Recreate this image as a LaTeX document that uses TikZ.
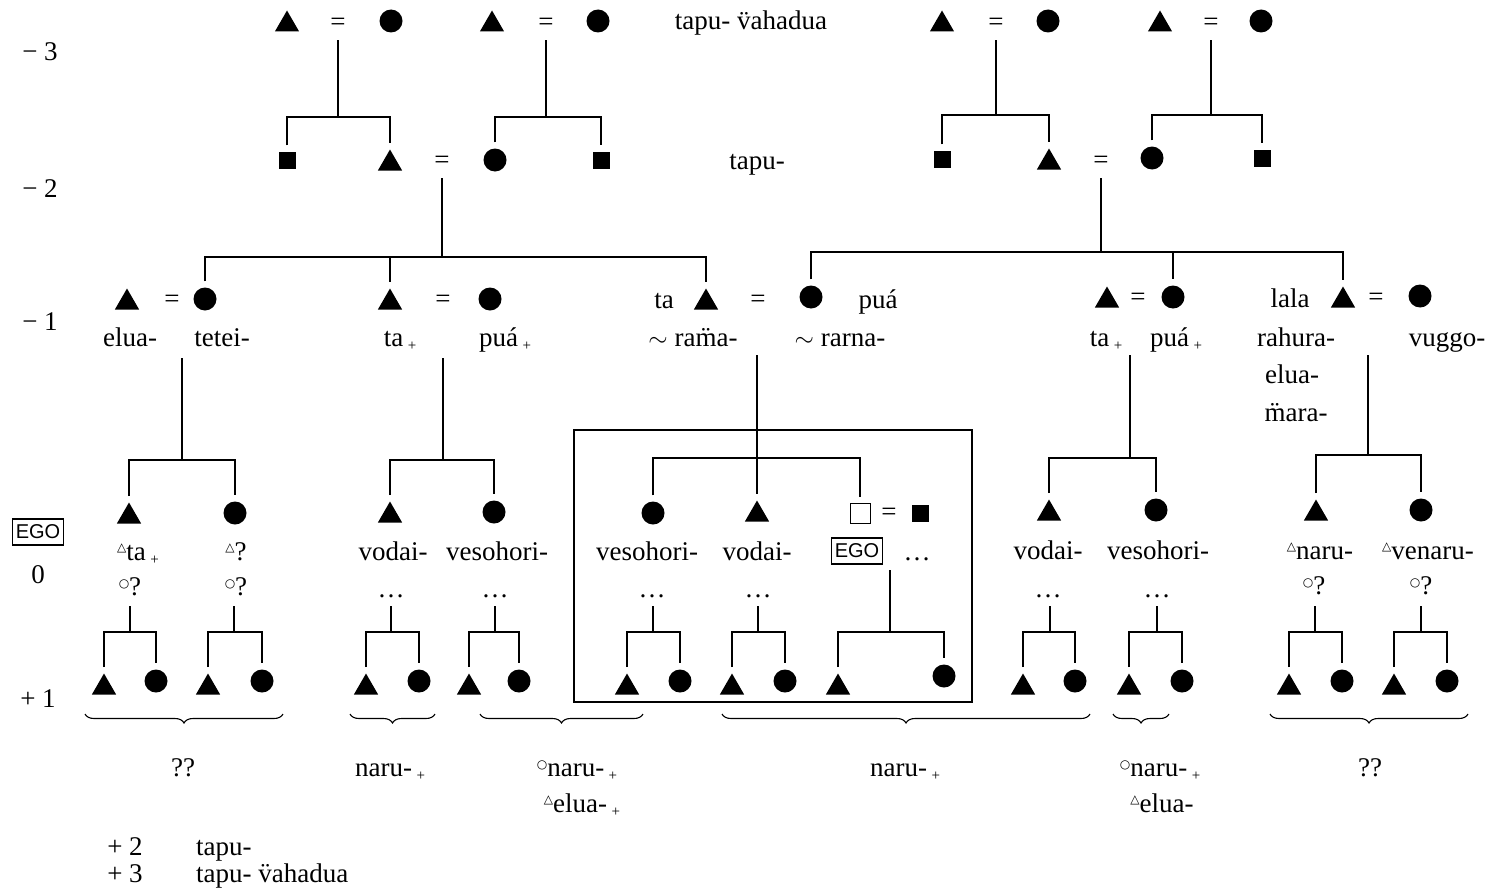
\documentclass[tikz,border=0pt]{standalone}
\usepackage{fontspec}
\setmainfont{Liberation Serif}
\newfontfamily\symfont{DejaVu Sans}
\newfontfamily\egofam{Liberation Sans}
\usetikzlibrary{shapes.geometric,decorations.pathreplacing}
\newcommand\lblfont{\fontsize{27}{31}\selectfont}
\newcommand\plsub{\,\raisebox{-4pt}{\fontsize{15}{15}\selectfont +}}
\newcommand\mtri{\raisebox{9pt}{\symfont\fontsize{12}{12}\selectfont △}}
\newcommand\mcir{\raisebox{8pt}{\symfont\fontsize{12}{12}\selectfont ○}}
\tikzset{
  tri/.style={regular polygon, regular polygon sides=3, fill=black, inner sep=0pt, minimum size=28pt, yshift=-3.5pt},
  cir/.style={circle, fill=black, inner sep=0pt, minimum size=23pt},
  sqr/.style={rectangle, fill=black, inner sep=0pt, minimum size=17pt},
  osq/.style={rectangle, draw, line width=1pt, fill=white, inner sep=0pt, minimum size=20pt},
  eqs/.style={inner sep=0pt, font=\lblfont},
  lbl/.style={inner sep=0pt, font=\lblfont, anchor=base},
  ego/.style={draw, line width=1.3pt, inner xsep=3pt, inner ysep=6pt, font=\egofam\fontsize{20}{22}\selectfont},
  ln/.style={line width=2.2pt},
  kid/.style={line width=2.2pt, shorten <=6pt, shorten >=6pt},
  brc/.style={line width=1.1pt, decorate, decoration={brace, mirror, amplitude=9pt}},
}
\begin{document}
\begin{tikzpicture}[x=1pt,y=-1pt]
\useasboundingbox (0,0) rectangle (1495,891);
% generation labels
\node[lbl] (gm3) at (40,60) {− 3};
\node[lbl] (gm2) at (40,197) {− 2};
\node[lbl] (gm1) at (40,330) {− 1};
\node[ego] (ego0) at (38,532) {EGO};
\node[lbl] (g0) at (38,583) {0};
\node[lbl] (gp1) at (38,707) {+ 1};
% row -3
\node[tri] (a1) at (287,21) {}; \node[eqs] (ae) at (338,24) {=}; \node[cir] (a2) at (391,21) {};
\node[tri] (b1) at (492,21) {}; \node[eqs] (be) at (546,24) {=}; \node[cir] (b2) at (598,21) {};
\node[lbl] (t3) at (751,30) {tapu- \"vahadua};
\node[tri] (c1) at (942,21) {}; \node[eqs] (ce) at (996,24) {=}; \node[cir] (c2) at (1048,21) {};
\node[tri] (d1) at (1160,21) {}; \node[eqs] (de) at (1211,24) {=}; \node[cir] (d2) at (1261,21) {};
% row -2
\node[sqr] (p1) at (287,160) {}; \node[tri] (p2) at (390,160) {}; \node[eqs] (pe) at (442,162) {=};
\node[cir] (p3) at (495,160) {}; \node[sqr] (p4) at (601,160) {};
\node[lbl] (t2) at (757,169) {tapu-};
\node[sqr] (q1) at (942,159) {}; \node[tri] (q2) at (1049,159) {}; \node[eqs] (qe) at (1101,162) {=};
\node[cir] (q3) at (1152,158) {}; \node[sqr] (q4) at (1262,158) {};
% -3 -> -2
\coordinate (ja) at (338,117); \draw[ln, shorten <=10pt] (ae.south) -- (ja); \draw[kid] (p1.north) |- (ja) -| (p2.north);
\coordinate (jb) at (546,117); \draw[ln, shorten <=10pt] (be.south) -- (jb); \draw[kid] (p3.north) |- (jb) -| (p4.north);
\coordinate (jc) at (996,115); \draw[ln, shorten <=10pt] (ce.south) -- (jc); \draw[kid] (q1.north) |- (jc) -| (q2.north);
\coordinate (jd) at (1211,115); \draw[ln, shorten <=10pt] (de.south) -- (jd); \draw[kid] (q3.north) |- (jd) -| (q4.north);
% row -1
\node[tri] (r1) at (127,299) {}; \node[eqs] (re1) at (172,301) {=}; \node[cir] (r2) at (205,299) {};
\node[tri] (r3) at (390,299) {}; \node[eqs] (re2) at (443,301) {=}; \node[cir] (r4) at (490,299) {};
\node[lbl] (rta) at (664,308) {ta}; \node[tri] (r5) at (706,299) {}; \node[eqs] (re3) at (758,301) {=};
\node[cir] (r6) at (811,297) {}; \node[lbl] (rpua) at (878,308) {puá};
\node[tri] (r7) at (1107,297) {}; \node[eqs] (re4) at (1138,299) {=}; \node[cir] (r8) at (1173,297) {};
\node[lbl] (rlala) at (1290,307) {lala}; \node[tri] (r9) at (1343,297) {}; \node[eqs] (re5) at (1376,299) {=};
\node[cir] (r10) at (1420,296) {};
% -2 -> -1
\coordinate (jl) at (442,257); \draw[ln, shorten <=10pt] (pe.south) -- (jl);
\draw[kid] (r2.north) |- (jl) -| (r5.north); \draw[ln, shorten >=6pt] (r3.north |- jl) -- (r3.north);
\coordinate (jr) at (1101,252); \draw[ln, shorten <=10pt] (qe.south) -- (jr);
\draw[kid] (r6.north) |- (jr) -| (r9.north); \draw[ln, shorten >=6pt] (r8.north |- jr) -- (r8.north);
% row -1 labels
\node[lbl] (l1) at (130,346) {elua-};
\node[lbl] (l2) at (222,346) {tetei-};
\node[lbl] (l3) at (400,346) {ta\plsub};
\node[lbl] (l4) at (505,346) {puá\plsub};
\node[lbl] (l5) at (693,346) {$\sim$ ra\"ma-};
\node[lbl] (l6) at (840,346) {$\sim$ rarna-};
\node[lbl] (l7) at (1106,346) {ta\plsub};
\node[lbl] (l8) at (1176,346) {puá\plsub};
\node[lbl] (l9) at (1296,346) {rahura-};
\node[lbl] (l10) at (1447,346) {vuggo-};
\node[lbl] (l11) at (1292,383) {elua-};
\node[lbl] (l12) at (1296,421) {\"mara-};
% frame
\draw[line width=1.5pt] (574,430) rectangle (972,702);
% row 0
\node[tri] (s1) at (129,513) {}; \node[cir] (s2) at (235,513) {};
\node[tri] (s3) at (390,512) {}; \node[cir] (s4) at (494,512) {};
\node[cir] (s5) at (653,513) {}; \node[tri] (s6) at (757,511) {};
\node[osq] (s7) at (860,513) {}; \node[eqs] (se) at (889,514) {=}; \node[sqr] (s8) at (920,513) {};
\node[tri] (s9) at (1049,510) {}; \node[cir] (s10) at (1156,510) {};
\node[tri] (s11) at (1316,510) {}; \node[cir] (s12) at (1421,510) {};
% -1 -> 0
\coordinate (u1) at (182,358); \coordinate (v1) at (182,460); \draw[ln] (u1) -- (v1); \draw[kid] (s1.north) |- (v1) -| (s2.north);
\coordinate (u2) at (443,358); \coordinate (v2) at (443,460); \draw[ln] (u2) -- (v2); \draw[kid] (s3.north) |- (v2) -| (s4.north);
\coordinate (u3) at (757,355); \coordinate (v3) at (757,458); \draw[ln, shorten >=6pt] (u3) -- (s6.north); \draw[kid] (s5.north) |- (v3) -| (s7.north);
\coordinate (u4) at (1130,355); \coordinate (v4) at (1130,458); \draw[ln] (u4) -- (v4); \draw[kid] (s9.north) |- (v4) -| (s10.north);
\coordinate (u5) at (1368,355); \coordinate (v5) at (1368,455); \draw[ln] (u5) -- (v5); \draw[kid] (s11.north) |- (v5) -| (s12.north);
% row 0 labels
\node[lbl] (m1) at (138,560) {\mtri ta\plsub};
\node[lbl] (m2) at (236,560) {\mtri ?};
\node[lbl] (m3) at (130,595) {\mcir ?};
\node[lbl] (m4) at (236,595) {\mcir ?};
\node[lbl] (m5) at (393,560) {vodai-};
\node[lbl] (m6) at (497,560) {vesohori-};
\node[lbl] (m7) at (647,560) {vesohori-};
\node[lbl] (m8) at (757,560) {vodai-};
\node[ego] (ego1) at (857,551) {EGO};
\node[lbl] (m9) at (917,560) {\ldots};
\node[lbl] (m10) at (1048,559) {vodai-};
\node[lbl] (m11) at (1158,559) {vesohori-};
\node[lbl] (m12) at (1320,559) {\mtri naru-};
\node[lbl] (m13) at (1428,559) {\mtri venaru-};
\node[lbl] (m14) at (1314,594) {\mcir ?};
\node[lbl] (m15) at (1421,594) {\mcir ?};
\node[lbl] (dt1) at (391,597) {\ldots};
\node[lbl] (dt2) at (495,597) {\ldots};
\node[lbl] (dt3) at (652,597) {\ldots};
\node[lbl] (dt4) at (758,597) {\ldots};
\node[lbl] (dt5) at (1048,597) {\ldots};
\node[lbl] (dt6) at (1157,597) {\ldots};
% row +1
\foreach \i/\xa/\xb/\xc/\ya in {1/130/104/156/606, 2/234/208/262/606, 3/391/366/419/606, 4/495/469/519/606,
  5/653/627/680/606, 6/758/732/785/606, 8/1050/1023/1075/606, 9/1157/1129/1182/606,
  10/1315/1289/1342/606, 11/1421/1394/1447/606}{
  \node[tri] (xa\i) at (\xb,684) {};
  \node[cir] (xb\i) at (\xc,681) {};
  \coordinate (w\i) at (\xa,\ya); \coordinate (k\i) at (\xa,632);
  \draw[ln] (w\i) -- (k\i);
  \draw[kid] (xa\i.north) |- (k\i) -| (xb\i.north);
}
\node[tri] (xa7) at (838,684) {}; \node[cir] (xb7) at (944,676) {};
\coordinate (w7) at (890,570); \coordinate (k7) at (890,632);
\draw[ln] (w7) -- (k7); \draw[kid] (xa7.north) |- (k7) -| (xb7.north);
% braces
\draw[brc] (85,714) -- (283,714);
\draw[brc] (350,714) -- (435,714);
\draw[brc] (480,714) -- (643,714);
\draw[brc] (722,714) -- (1090,714);
\draw[brc] (1113,714) -- (1169,714);
\draw[brc] (1270,714) -- (1468,714);
\node[lbl] (n1) at (183,776) {??};
\node[lbl] (n2) at (390,776) {naru-\plsub};
\node[lbl] (n3) at (577,776) {\mcir naru-\plsub};
\node[lbl] (n4) at (582,812) {\mtri elua-\plsub};
\node[lbl] (n5) at (905,776) {naru-\plsub};
\node[lbl] (n6) at (1160,776) {\mcir naru-\plsub};
\node[lbl] (n7) at (1162,812) {\mtri elua-};
\node[lbl] (n8) at (1370,776) {??};
% bottom
\node[lbl] (bp2) at (125,855) {+ 2};
\node[lbl, anchor=base west] (bt2) at (196,855) {tapu-};
\node[lbl] (bp3) at (125,882) {+ 3};
\node[lbl, anchor=base west] (bt3) at (196,882) {tapu- \"vahadua};
\end{tikzpicture}
\end{document}
